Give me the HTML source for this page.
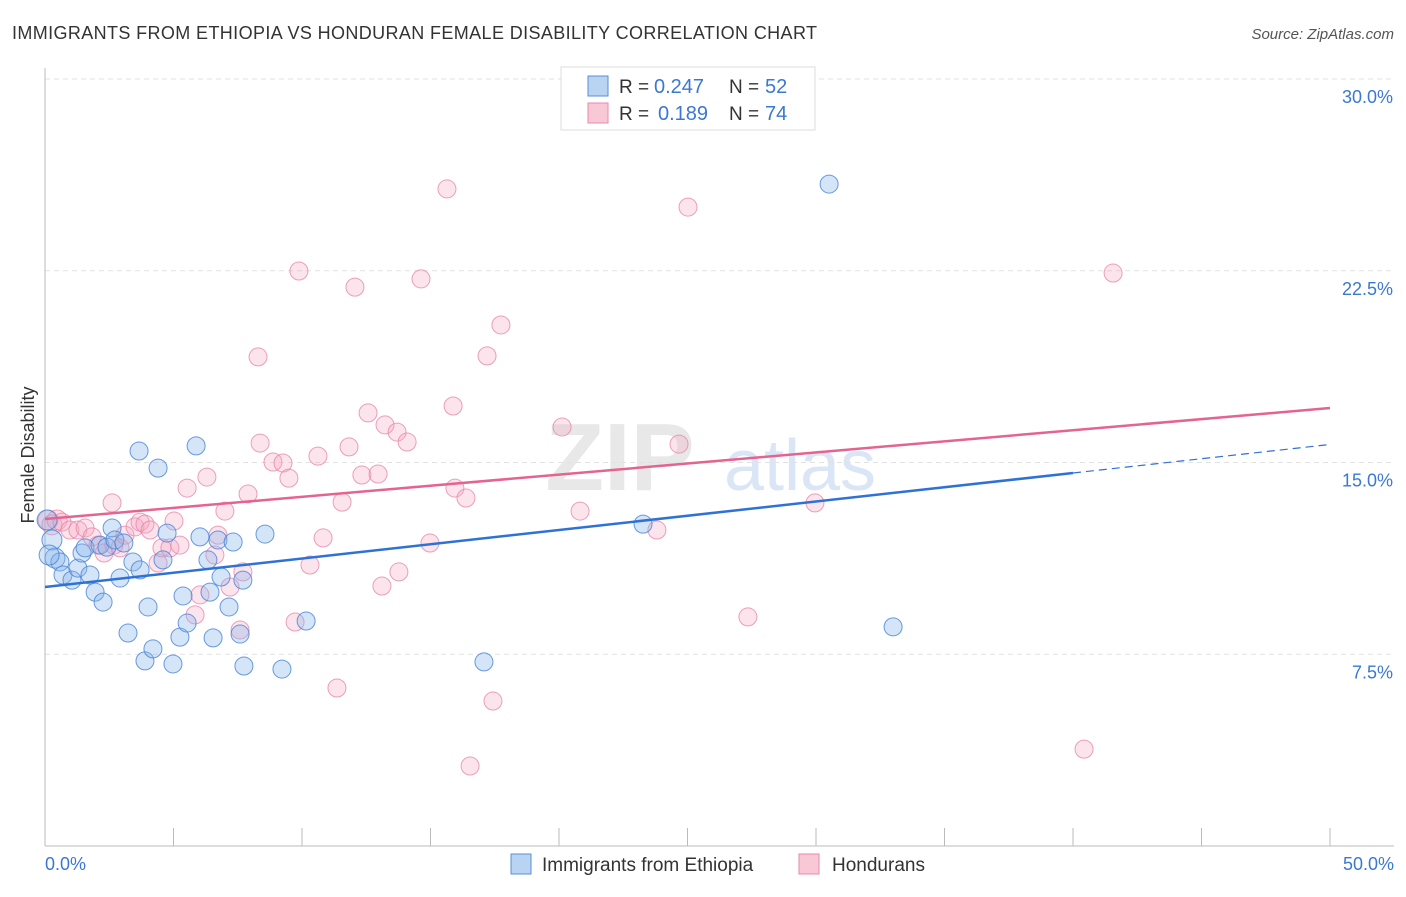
<!DOCTYPE html>
<html><head><meta charset="utf-8"><style>
body{margin:0;background:#fff;font-family:"Liberation Sans",sans-serif;}
svg text{font-family:"Liberation Sans",sans-serif;}
</style></head><body>
<svg id="chart" width="1406" height="892" xmlns="http://www.w3.org/2000/svg">
<text x="12" y="39" font-size="18" fill="#333" textLength="805">IMMIGRANTS FROM ETHIOPIA VS HONDURAN FEMALE DISABILITY CORRELATION CHART</text>
<text x="1394" y="39" font-size="15" fill="#555" font-style="italic" text-anchor="end">Source: ZipAtlas.com</text>
<text x="620" y="490" font-size="96" fill="#e8e8e8" font-family="Liberation Serif" font-weight="bold" text-anchor="middle">ZIP</text>
<text x="800" y="490" font-size="72" fill="#dae6f5" text-anchor="middle">atlas</text>
<g id="grid"></g><g id="axes"></g><g id="marks"></g><g id="lines"></g>
<text x="34" y="455" font-size="18" fill="#333" text-anchor="middle" transform="rotate(-90 34 455)">Female Disability</text>
<g>
<rect x="561" y="67" width="254" height="63" fill="#fff" stroke="#ddd"/>
<rect x="588" y="76" width="20" height="20" fill="#b9d3f3" stroke="#5b8fd6"/>
<text x="619" y="93" font-size="19" fill="#333">R =</text>
<text x="654" y="93" font-size="20" fill="#3a78d4">0.247</text>
<text x="729" y="93" font-size="19" fill="#333">N =</text>
<text x="765" y="93" font-size="20" fill="#3a78d4">52</text>
<rect x="588" y="103" width="20" height="20" fill="#f9c8d7" stroke="#e88aa8"/>
<text x="619" y="120" font-size="19" fill="#333">R =</text>
<text x="658" y="120" font-size="20" fill="#3a78d4">0.189</text>
<text x="729" y="120" font-size="19" fill="#333">N =</text>
<text x="765" y="120" font-size="20" fill="#3a78d4">74</text>
</g>
<g>
<rect x="511" y="854" width="20" height="20" fill="#b9d3f3" stroke="#5b8fd6"/>
<text x="542" y="871" font-size="19" fill="#333">Immigrants from Ethiopia</text>
<rect x="799" y="854" width="20" height="20" fill="#f9c8d7" stroke="#e88aa8"/>
<text x="832" y="871" font-size="19" fill="#333">Hondurans</text>
</g>
</svg>
<script>
const yTicks=[7.5,15,22.5,30];
const yTickLabels=["7.5%","15.0%","22.5%","30.0%"];
const xTicks=[0,5,10,15,20,25,30,35,40,45,50];
const xTickLabels=["0.0%","50.0%"];
const blueX=[0.08,0.27,0.39,0.58,0.70,1.05,1.28,1.44,1.56,1.75,1.95,2.14,2.26,2.41,2.61,2.72,2.92,3.07,3.23,3.42,3.66,3.70,3.89,4.01,4.20,4.40,4.59,4.75,4.98,5.25,5.37,5.53,5.88,6.03,6.34,6.42,6.54,6.73,6.85,7.16,7.32,7.59,7.70,7.74,8.56,9.22,10.16,17.08,23.27,30.51,33.00,0.16];
const blueY=[12.75,11.97,11.26,11.11,10.60,10.40,10.87,11.46,11.66,10.60,9.93,11.77,9.54,11.69,12.44,11.97,10.48,11.85,8.33,11.11,15.45,10.80,7.24,9.35,7.71,14.78,11.19,12.24,7.12,8.17,9.78,8.72,15.65,12.09,11.19,9.93,8.14,11.97,10.52,9.35,11.89,8.29,10.40,7.04,12.20,6.92,8.80,7.20,12.59,25.89,8.57,11.38];
const pinkX=[0.12,0.27,0.47,0.66,0.97,1.28,1.56,1.83,2.06,2.30,2.61,2.68,2.92,3.11,3.50,3.70,3.89,4.09,4.40,4.55,4.86,5.02,5.25,5.53,5.84,6.03,6.30,6.61,6.73,7.00,7.20,7.59,7.70,7.90,8.29,8.37,8.87,9.26,9.49,9.73,9.88,10.31,10.62,10.82,11.36,11.56,11.83,12.06,12.33,12.57,12.96,13.11,13.23,13.70,13.77,14.09,14.63,14.98,15.64,15.88,15.95,16.38,17.20,17.43,17.74,16.54,20.12,20.82,23.81,24.67,25.02,27.35,29.96,40.43,41.56];
const pinkY=[12.75,12.56,12.75,12.67,12.36,12.36,12.44,12.09,11.77,11.46,13.42,11.77,11.66,12.16,12.48,12.67,12.59,12.36,11.07,11.66,11.66,12.71,11.77,14.00,9.04,9.82,14.43,11.38,12.16,13.10,10.13,8.45,10.72,13.77,19.13,15.76,15.02,14.98,14.39,8.76,22.49,10.99,15.25,12.05,6.18,13.45,15.61,21.86,14.51,16.94,14.55,10.17,16.47,16.19,10.72,15.80,22.18,11.85,25.70,17.21,14.00,13.61,19.17,5.67,20.38,3.13,16.39,13.10,12.36,15.72,24.99,8.96,13.42,3.79,22.41];
const blueTrend=[10.13,0.1115];
const pinkTrend=[12.79,0.0868];
const NS="http://www.w3.org/2000/svg";
const sx=v=>45+v/50*1285;
const sy=v=>846-v/30*767;
function mk(tag,attrs,parent){const e=document.createElementNS(NS,tag);for(const k in attrs)e.setAttribute(k,attrs[k]);document.getElementById(parent).appendChild(e);return e;}
yTicks.forEach((t,i)=>{
  const l=mk('line',{x1:45,x2:1394,y1:sy(t),y2:sy(t),stroke:'#e2e2e2','stroke-dasharray':'5,4'},'grid');
  
  
  const tx=mk('text',{x:1393,y:sy(t)+24,'font-size':18,fill:'#3a78d4','text-anchor':'end'},'grid');
  tx.textContent=yTickLabels[i];
  
  
});
const ya=mk('line',{x1:45,x2:45,y1:68,y2:846,stroke:'#bbb'},'axes');


const xa=mk('line',{x1:45,x2:1394,y1:846,y2:846,stroke:'#bbb'},'axes');


xTicks.forEach(t=>{
  const l=mk('line',{x1:sx(t),x2:sx(t),y1:828,y2:846,stroke:'#bbb'},'axes');
  
  
});
[[0,'start',45],[50,'end',1394]].forEach((d,i)=>{
  const tx=mk('text',{x:d[2],y:870,'font-size':18,fill:'#3a78d4','text-anchor':d[1]},'axes');
  tx.textContent=xTickLabels[i];
  
  
});
function dots(X,Y,fill,stroke,name){
  X.forEach((x,i)=>{
    const r=(x<0.5?10:9);
    const c=mk('circle',{cx:sx(x),cy:sy(Y[i]),r:r,fill:fill,stroke:stroke,'stroke-width':1},'marks');
    
    
  });
}
dots(pinkX,pinkY,'rgba(245,165,192,0.3)','rgba(230,130,165,0.75)','hondurans-point');
dots(blueX,blueY,'rgba(135,180,235,0.35)','rgba(70,130,215,0.8)','ethiopia-point');
const b1=mk('line',{x1:sx(0),y1:sy(blueTrend[0]),x2:sx(40),y2:sy(blueTrend[0]+blueTrend[1]*40),stroke:'#2f72d6','stroke-width':2.5},'lines');


const b2=mk('line',{x1:sx(40),y1:sy(blueTrend[0]+blueTrend[1]*40),x2:sx(50),y2:sy(blueTrend[0]+blueTrend[1]*50),stroke:'#2f72d6','stroke-width':1.2,'stroke-dasharray':'8,5'},'lines');


const p1=mk('line',{x1:sx(0),y1:sy(pinkTrend[0]),x2:sx(50),y2:sy(pinkTrend[0]+pinkTrend[1]*50),stroke:'#e5648f','stroke-width':2.5},'lines');


</script>
</body></html>
